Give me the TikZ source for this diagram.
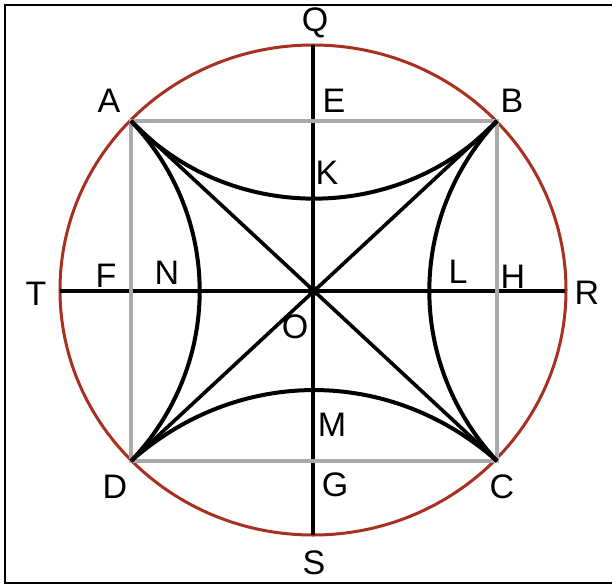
\documentclass[tikz,border=0pt]{standalone}
\usepackage{fontspec}
\setmainfont{Liberation Sans}
\definecolor{RimRed}{RGB}{168,48,32}
\definecolor{SquareGray}{RGB}{170,170,170}

\begin{document}
\begin{tikzpicture}[x=1pt,y=1pt,
  every node/.style={font=\fontsize{34}{34}\selectfont,inner sep=0pt},
  axisline/.style={black,line width=3.6pt},
  cusp/.style={black,line width=4pt}]
\useasboundingbox (-313,-295) rectangle (299,291);
\draw[line width=2.5pt] (302,286) -- (-308,286) -- (-308,-292) -- (302,-292);
% points
\coordinate (O) at (0,0);
\coordinate (A) at (-182,170);
\coordinate (B) at (184,170);
\coordinate (C) at (184,-170);
\coordinate (D) at (-182,-170);
\coordinate (Q) at (0,246);
\coordinate (S) at (0,-244);
\coordinate (T) at (-253,0);
\coordinate (R) at (252,0);
% circle
\draw[RimRed,line width=3pt] (0,1) ellipse [x radius=253,y radius=245];
% axes and square
\draw[axisline] (Q) -- (S);
\draw[axisline] (T) -- (R);
\draw[SquareGray,line width=3.2pt] (A) -- (B) -- (C) -- (D) -- cycle;
\draw[axisline] (A) -- (C);
\draw[axisline] (B) -- (D);
% curved sides
\draw[cusp] (A) to[bend right=46.5] (B);
\draw[cusp] (D) to[bend left=41.5] (C);
\draw[cusp] (A) to[bend left=43.7] (D);
\draw[cusp] (B) to[bend right=42.9] (C);
\fill (O) circle (5.5);
% labels
\node (lQ) at (2,268) {Q};
\node (lA) at (-204,190) {A};
\node (lE) at (21,190) {E};
\node (lB) at (199,190) {B};
\node (lK) at (14,118) {K};
\node (lT) at (-277,-3) {T};
\node (lF) at (-207,15) {F};
\node (lN) at (-146,18) {N};
\node (lO) at (-18,-36) {O};
\node (lL) at (145,19) {L};
\node (lH) at (200,14) {H};
\node (lR) at (274,-2) {R};
\node (lM) at (19,-134) {M};
\node (lD) at (-198,-196) {D};
\node (lG) at (22,-194) {G};
\node (lC) at (189,-196) {C};
\node (lS) at (1,-272) {S};
\end{tikzpicture}
\end{document}
